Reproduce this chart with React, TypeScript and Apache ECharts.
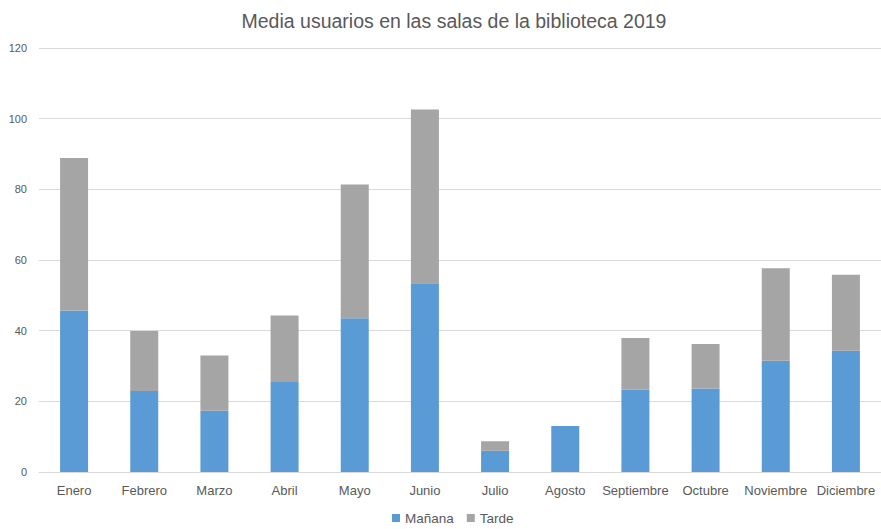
import React, { useEffect, useRef } from "react";
import * as echarts from "echarts";

const categories = ["Enero", "Febrero", "Marzo", "Abril", "Mayo", "Junio", "Julio", "Agosto", "Septiembre", "Octubre", "Noviembre", "Diciembre"];
const manana = [45.7, 22.9, 17.3, 25.5, 43.5, 53.4, 6.0, 13.0, 23.3, 23.6, 31.5, 34.3];
const tarde = [43.2, 17.0, 15.7, 18.8, 37.9, 49.2, 2.7, 0, 14.6, 12.6, 26.2, 21.5];
const titleText = "Media usuarios en las salas de la biblioteca 2019";

const FONT = "'Liberation Sans', Arial, sans-serif";
const TXT = "#595959";

export default function App() {
  const ref = useRef<HTMLDivElement>(null);
  useEffect(() => {
    document.body.style.margin = "0";
    const chart = echarts.init(ref.current!, null, { renderer: "svg" });
    chart.setOption({
      animation: false,
      backgroundColor: "#ffffff",
      title: {
        text: titleText,
        left: 449,
        textAlign: "center",
        top: 6,
        textStyle: { fontFamily: FONT, fontSize: 19.5, fontWeight: "normal", color: TXT },
      },
      legend: {
        top: 510,
        left: 392,
        padding: 0,
        itemWidth: 8,
        itemHeight: 8,
        itemGap: 13,
        icon: "rect",
        textStyle: { fontFamily: FONT, fontSize: 13.5, lineHeight: 16, color: TXT },
        data: ["Mañana", "Tarde"],
      },
      grid: { left: 39, right: 0, top: 48, bottom: 57, containLabel: false },
      xAxis: {
        type: "category",
        data: categories,
        axisLine: { show: true, lineStyle: { color: "#d9d9d9" } },
        axisTick: { show: false },
        axisLabel: { fontFamily: FONT, fontSize: 13, color: TXT, margin: 12, interval: 0 },
      },
      yAxis: {
        type: "value",
        min: 0,
        max: 120,
        interval: 20,
        axisLine: { show: false },
        axisTick: { show: false },
        axisLabel: { fontFamily: FONT, fontSize: 11, color: TXT, margin: 12 },
        splitLine: { lineStyle: { color: "#d9d9d9" } },
      },
      series: [
        {
          name: "Mañana",
          type: "bar",
          stack: "total",
          data: manana,
          barWidth: 28,
          itemStyle: { color: "#5b9bd5" },
        },
        {
          name: "Tarde",
          type: "bar",
          stack: "total",
          data: tarde,
          barWidth: 28,
          itemStyle: { color: "#a5a5a5" },
        },
      ],
    });
    return () => chart.dispose();
  }, []);
  return <div ref={ref} style={{ width: 881, height: 529 }} />;
}
